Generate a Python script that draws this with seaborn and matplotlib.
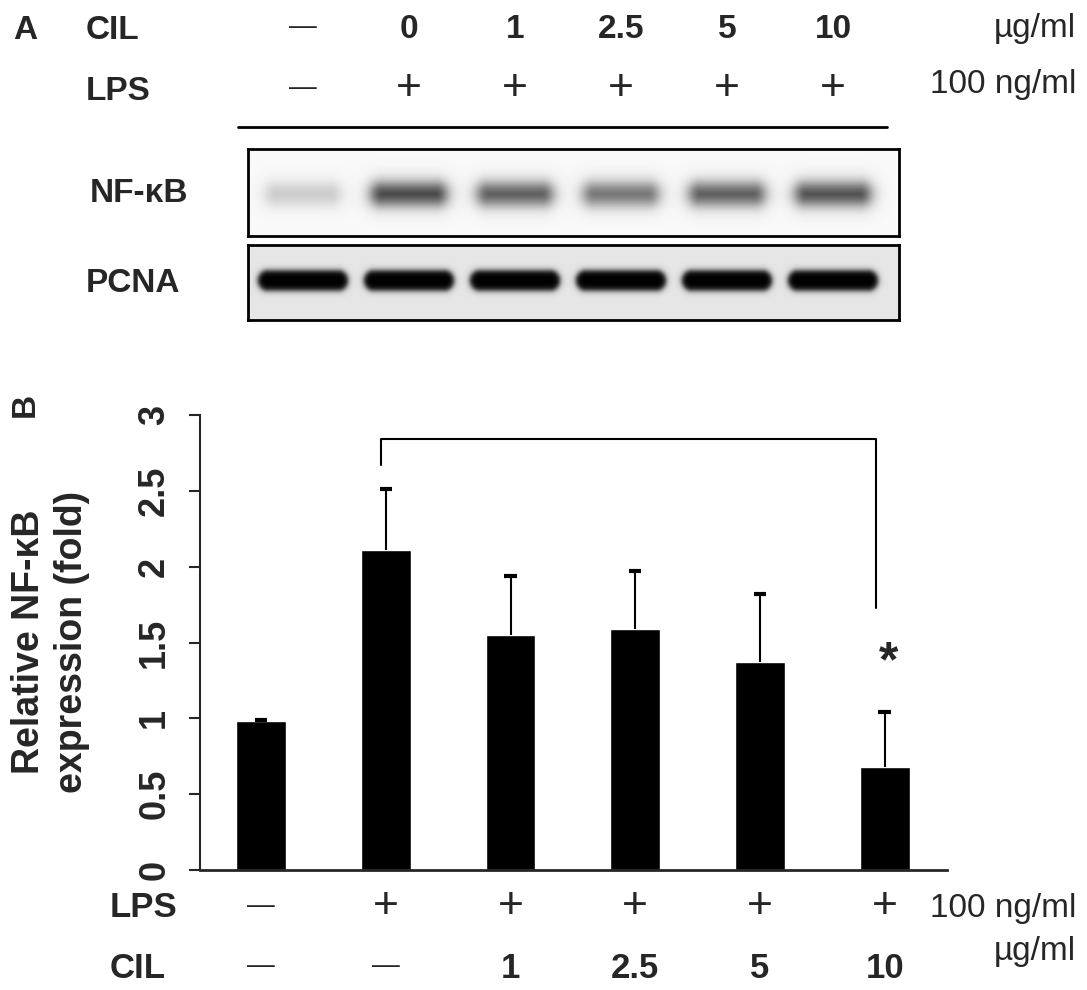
import numpy as np
import pandas as pd
import seaborn as sns
import matplotlib.pyplot as plt
from matplotlib.transforms import blended_transform_factory

# panel A: treatment labels and band strength of each blot lane
cil_a = ["—", "0", "1", "2.5", "5", "10"]
lps_a = ["—", "+", "+", "+", "+", "+"]
nfkb_band = [0.20, 0.78, 0.68, 0.58, 0.68, 0.74]
pcna_band = [1.0, 1.0, 1.0, 1.0, 1.0, 1.0]

# panel B: relative NF-kB expression (fold), mean and upper error
groups = ["ctrl", "LPS", "CIL 1", "CIL 2.5", "CIL 5", "CIL 10"]
rel_expr = [0.98, 2.11, 1.55, 1.59, 1.37, 0.68]
rel_err = [0.01, 0.40, 0.39, 0.38, 0.45, 0.36]
lps_b = ["—", "+", "+", "+", "+", "+"]
cil_b = ["—", "—", "1", "2.5", "5", "10"]

sns.set_style("white")
plt.rcParams["font.family"] = ["Liberation Sans", "DejaVu Sans"]

W, H = 1087, 990
fig = plt.figure(figsize=(W / 100, H / 100), dpi=100)


def fx(p):
    return p / W


def fy(p):
    return 1 - p / H


def sign_style(s, num_size=24):
    if s == "+":
        return dict(fontsize=32, fontweight="normal")
    if s == "—":
        return dict(fontsize=20, fontweight="normal")
    return dict(fontsize=num_size, fontweight="bold")


# ---------------- panel A ----------------
lane0, lane_px = 303, 106
bx0, bx1 = 248, 899


def blot(top, bot, vals, bg, band_y, hw, hh, soft):
    bax = fig.add_axes([fx(bx0), fy(bot), (bx1 - bx0) / W, (bot - top) / H])
    x0 = (bx0 - lane0) / lane_px
    x1 = (bx1 - lane0) / lane_px
    px = np.arange(bx0, bx1) + 0.5
    py = np.arange(bot - top) + 0.5
    X, Y = np.meshgrid(px, py)
    dark = np.zeros_like(X)
    for i, v in enumerate(vals):
        cx = lane0 + i * lane_px
        dx = np.clip(np.abs(X - cx) - (hw - hh), 0, None)
        r = np.sqrt(dx ** 2 + (Y - band_y) ** 2)
        dark += v / (1 + np.exp((r - hh) / soft))
    img = np.clip(bg * (1 - dark), 0, 1)
    bax.imshow(img, cmap="gray", vmin=0, vmax=1, aspect="auto",
               extent=(x0, x1, bot - top, 0), interpolation="bilinear")
    bax.set_xlim(x0, x1)
    bax.set_xticks([])
    bax.set_yticks([])
    for sp in bax.spines.values():
        sp.set_visible(True)
        sp.set_color("black")
        sp.set_linewidth(2)
    return bax


ax_nf = blot(149, 236, nfkb_band, 0.975, 45, 37, 10, 4.5)
ax_pc = blot(245, 320, pcna_band, 0.9, 36, 45, 10, 1.6)

fig.text(fx(188), fy(193), "NF-κB", ha="right", va="center", fontsize=24, fontweight="bold")
fig.text(fx(180), fy(283), "PCNA", ha="right", va="center", fontsize=24, fontweight="bold")

fig.text(fx(13), fy(39), "A", ha="left", va="baseline", fontsize=24, fontweight="bold")
fig.text(fx(86), fy(39), "CIL", ha="left", va="baseline", fontsize=24, fontweight="bold")
fig.text(fx(86), fy(100), "LPS", ha="left", va="baseline", fontsize=24, fontweight="bold")

ta = blended_transform_factory(ax_nf.transData, fig.transFigure)
for i, s in enumerate(cil_a):
    if s == "—":
        fig.text(i, fy(27), s, transform=ta, ha="center", va="center", **sign_style(s))
    else:
        fig.text(i, fy(38), s, transform=ta, ha="center", va="baseline", **sign_style(s))
for i, s in enumerate(lps_a):
    fig.text(i, fy(88), s, transform=ta, ha="center", va="center", **sign_style(s))

fig.text(fx(1076), fy(37), "µg/ml", ha="right", va="baseline", fontsize=24)
fig.text(fx(1076), fy(93), "100 ng/ml", ha="right", va="baseline", fontsize=24)
fig.add_artist(plt.Line2D([fx(238), fx(887)], [fy(127), fy(127)], color="black", lw=2))

# ---------------- panel B ----------------
ax = fig.add_axes([fx(200), fy(870), (947 - 200) / W, (870 - 415) / H])
df = pd.DataFrame({"group": groups, "value": rel_expr})
sns.barplot(data=df, x="group", y="value", color="black", saturation=1,
            width=0.4, errorbar=None, ax=ax)
xpos = np.arange(len(groups))
tops = np.array(rel_expr) + np.array(rel_err)
ax.vlines(xpos, rel_expr, tops, color="black", lw=1.5)
ax.hlines(tops, xpos - 0.05, xpos + 0.05, color="black", lw=3)

ax.set_xlim(-0.49, 5.5)
ax.set_ylim(0, 3)
ax.set_xlabel("")
ax.set_ylabel("")
ax.set_xticks([])
yt = [0, 0.5, 1, 1.5, 2, 2.5, 3]
ax.set_yticks(yt)
ax.set_yticklabels(["0", "0.5", "1", "1.5", "2", "2.5", "3"], rotation=90,
                   va="center", fontsize=26, fontweight="bold")
ax.tick_params(axis="y", direction="out", length=8, width=1.5, pad=12, left=True)
for side in ["top", "right"]:
    ax.spines[side].set_visible(False)
ax.spines["left"].set_linewidth(1.5)
ax.spines["bottom"].set_linewidth(2)

# significance bracket LPS vs CIL 10
ax.plot([0.96, 0.96, 4.93, 4.93], [2.67, 2.84, 2.84, 1.73], color="black", lw=1.5)
ax.text(5.03, 1.36, "*", ha="center", va="center", fontsize=36, fontweight="bold")

fig.text(fx(51), fy(642), "Relative NF-κB\nexpression (fold)", rotation=90,
         ha="center", va="center", fontsize=27, fontweight="bold", linespacing=1.25)
fig.text(fx(25), fy(405), "B", rotation=90, ha="center", va="center",
         fontsize=24, fontweight="bold")

tb = blended_transform_factory(ax.transData, fig.transFigure)
fig.text(fx(110), fy(917), "LPS", ha="left", va="baseline", fontsize=25, fontweight="bold")
fig.text(fx(110), fy(978), "CIL", ha="left", va="baseline", fontsize=25, fontweight="bold")
for i, s in enumerate(lps_b):
    fig.text(i, fy(906), s, transform=tb, ha="center", va="center", **sign_style(s, 25))
for i, s in enumerate(cil_b):
    if s == "—":
        fig.text(i, fy(966), s, transform=tb, ha="center", va="center", **sign_style(s, 25))
    else:
        fig.text(i, fy(978), s, transform=tb, ha="center", va="baseline", **sign_style(s, 25))
fig.text(fx(1076), fy(917), "100 ng/ml", ha="right", va="baseline", fontsize=24)
fig.text(fx(1076), fy(960), "µg/ml", ha="right", va="baseline", fontsize=24)

fig.savefig("out.png", dpi=100, facecolor="white")
